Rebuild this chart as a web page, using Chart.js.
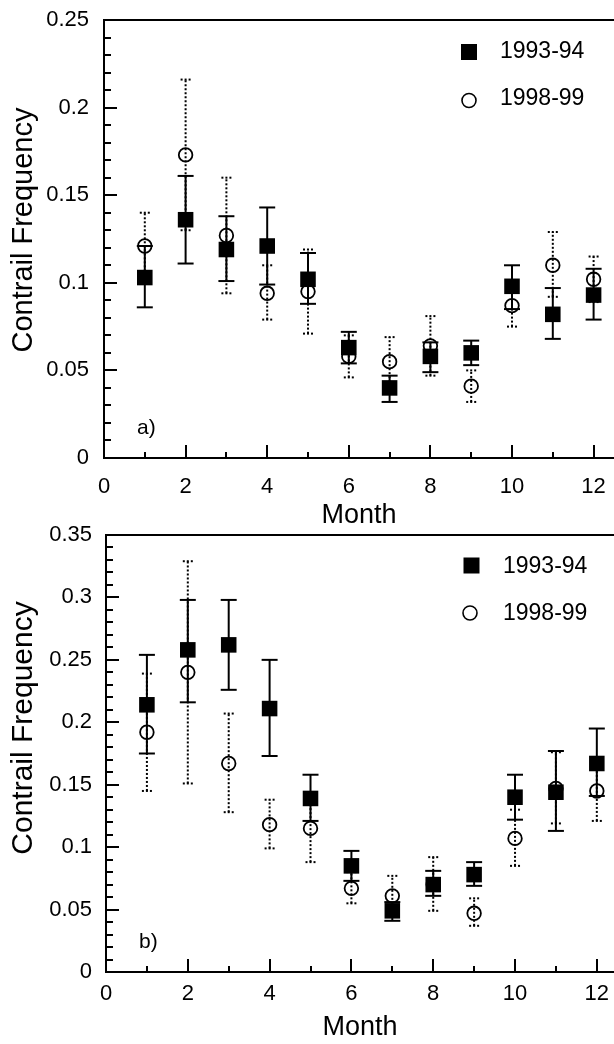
<!DOCTYPE html>
<html><head><meta charset="utf-8">
<script src="https://cdn.jsdelivr.net/npm/chart.js@4.4.1/dist/chart.umd.min.js"></script>
<style>
html,body{margin:0;padding:0;background:#fff;width:614px;height:1044px;overflow:hidden;}
canvas{position:absolute;left:0;}
#ca{top:0}
#cb{top:515px}
</style></head><body>
<canvas id="ca" width="614" height="540"></canvas>
<canvas id="cb" width="614" height="529"></canvas>
<script>
// ---------- data ----------
const months = [1,2,3,4,5,6,7,8,9,10,11,12];
const seriesNames = ['1993-94','1998-99'];
const xTitle = 'Month';
const yTitle = 'Contrail Frequency';
const panelLabels = ['a)','b)'];
const xTicks = [0,2,4,6,8,10,12];
const xTickLabels = ['0','2','4','6','8','10','12'];
const xMinorTicks = [1,3,5,7,9,11];
const yTicksA = [0,0.05,0.1,0.15,0.2,0.25];
const yTickLabelsA = ['0','0.05','0.1','0.15','0.2','0.25'];
const yTicksB = [0,0.05,0.1,0.15,0.2,0.25,0.3,0.35];
const yTickLabelsB = ['0','0.05','0.1','0.15','0.2','0.25','0.3','0.35'];
const yMinorStep = 0.01;

// panel a
const a9394   = [0.103,0.136,0.119,0.121,0.102,0.063,0.040,0.058,0.060,0.098,0.082,0.093];
const a9394Lo = [0.086,0.111,0.101,0.099,0.088,0.054,0.032,0.049,0.053,0.085,0.068,0.079];
const a9394Hi = [0.121,0.161,0.138,0.143,0.117,0.072,0.047,0.066,0.067,0.110,0.097,0.108];
const a9899   = [0.121,0.173,0.127,0.094,0.095,0.058,0.055,0.064,0.041,0.087,0.110,0.102];
const a9899Lo = [0.102,0.130,0.094,0.079,0.071,0.046,0.041,0.047,0.032,0.075,0.092,0.089];
const a9899Hi = [0.140,0.216,0.160,0.110,0.119,0.070,0.069,0.081,0.050,0.099,0.129,0.115];

// panel b
const b9394   = [0.214,0.258,0.262,0.211,0.139,0.085,0.049,0.070,0.078,0.140,0.144,0.167];
const b9394Lo = [0.175,0.216,0.226,0.173,0.121,0.073,0.041,0.061,0.069,0.122,0.113,0.141];
const b9394Hi = [0.254,0.298,0.298,0.250,0.158,0.097,0.056,0.081,0.088,0.158,0.177,0.195];
const b9899   = [0.192,0.240,0.167,0.118,0.115,0.067,0.061,0.070,0.047,0.107,0.147,0.145];
const b9899Lo = [0.145,0.151,0.128,0.099,0.088,0.055,0.045,0.049,0.037,0.085,0.119,0.121];
const b9899Hi = [0.239,0.329,0.207,0.138,0.142,0.080,0.077,0.092,0.059,0.130,0.176,0.169];

// ---------- drawing ----------
const F = "'Liberation Sans', Arial, Helvetica, sans-serif";

const panelPlugin = {
  id: 'panel',
  beforeDatasetDraw(chart, args) {
    const ds = chart.data.datasets[args.index];
    const xs = chart.scales.x, ys = chart.scales.y, ctx = chart.ctx;
    const dotted = ds.errStyle === 'dotted';
    const cap = dotted ? 5 : 8;
    ctx.save();
    ctx.strokeStyle = '#000';
    ctx.lineWidth = 2;
    ctx.lineCap = 'butt';
    if (dotted) ctx.setLineDash([2, 2]);
    ds.data.forEach((pt, i) => {
      const x = xs.getPixelForValue(pt.x);
      const yl = ys.getPixelForValue(ds.errLo[i]);
      const yh = ys.getPixelForValue(ds.errHi[i]);
      ctx.beginPath(); ctx.moveTo(x, yl); ctx.lineTo(x, yh); ctx.stroke();
      ctx.beginPath(); ctx.moveTo(x - cap, yl); ctx.lineTo(x + cap, yl); ctx.stroke();
      ctx.beginPath(); ctx.moveTo(x - cap, yh); ctx.lineTo(x + cap, yh); ctx.stroke();
    });
    ctx.restore();
  },
  afterDraw(chart, args, o) {
    const ctx = chart.ctx;
    const area = chart.chartArea;
    const left = area.left, right = area.right, top = area.top, bottom = area.bottom;
    const xs = chart.scales.x, ys = chart.scales.y;
    ctx.save();
    ctx.fillStyle = '#000';
    ctx.strokeStyle = '#000';
    // top frame line
    ctx.fillRect(left - 1, top - 1, right - left + 1, 2);
    // inward tick marks
    xTicks.forEach(v => {
      const x = Math.round(xs.getPixelForValue(v));
      ctx.fillRect(x - 1, bottom - 13, 2, 13);
    });
    xMinorTicks.forEach(v => {
      const x = Math.round(xs.getPixelForValue(v));
      ctx.fillRect(x - 1, bottom - 6, 2, 6);
    });
    const n = Math.round(ys.max / yMinorStep);
    for (let k = 1; k < n; k++) {
      const y = Math.round(ys.getPixelForValue(k * yMinorStep));
      const len = (k % 5 === 0) ? 13 : 7;
      ctx.fillRect(left, y - 1, len, 2);
    }
    // legend
    ctx.fillRect(o.legSq[0] - 8, o.legSq[1] - 8, 16, 16);
    ctx.lineWidth = 1.6;
    ctx.beginPath(); ctx.arc(o.legCi[0], o.legCi[1], 7, 0, Math.PI * 2); ctx.stroke();
    ctx.font = '23px ' + F;
    ctx.textAlign = 'left';
    ctx.textBaseline = 'alphabetic';
    ctx.fillText(seriesNames[0], o.legTx, o.legBase[0]);
    ctx.fillText(seriesNames[1], o.legTx, o.legBase[1]);
    // panel label
    ctx.font = '21px ' + F;
    ctx.fillText(o.label, left + 33, bottom - 24);
    // y title
    ctx.translate(24, o.yTitleY);
    ctx.rotate(-Math.PI / 2);
    ctx.font = o.yTitleSize + 'px ' + F;
    ctx.textAlign = 'center';
    ctx.textBaseline = 'middle';
    ctx.fillText(yTitle, 0, 0);
    ctx.restore();
  }
};

function makePanel(id, p) {
  return new Chart(document.getElementById(id), {
    type: 'scatter',
    data: {
      datasets: [
        { label: seriesNames[0],
          data: months.map((m, i) => ({x: m, y: p.v1[i]})),
          errLo: p.lo1, errHi: p.hi1, errStyle: 'solid',
          pointStyle: 'rect', pointRadius: 11, pointHoverRadius: 11,
          backgroundColor: '#000', borderColor: '#000', borderWidth: 0 },
        { label: seriesNames[1],
          data: months.map((m, i) => ({x: m, y: p.v2[i]})),
          errLo: p.lo2, errHi: p.hi2, errStyle: 'dotted',
          pointStyle: 'circle', pointRadius: 6.8, pointHoverRadius: 6.8,
          backgroundColor: 'rgba(0,0,0,0)', borderColor: '#000', borderWidth: 1.8 }
      ]
    },
    options: {
      responsive: false,
      animation: false,
      events: [],
      layout: {autoPadding: false, padding: {top: 20, left: 0, right: 0, bottom: 0}},
      plugins: {
        legend: {display: false},
        tooltip: {enabled: false},
        panel: p.deco
      },
      scales: {
        x: {
          type: 'linear', position: 'bottom', min: 0, max: p.xMax,
          afterBuildTicks: s => { s.ticks = xTicks.map(v => ({value: v})); },
          afterFit: s => { s.height = p.xAxisH; s.paddingLeft = 0; s.paddingRight = 0; s.paddingTop = 0; s.paddingBottom = 0; },
          grid: {display: false, drawTicks: false},
          border: {display: true, color: '#000', width: 2},
          ticks: {autoSkip: false, maxRotation: 0, minRotation: 0, padding: p.xTickPad,
                  color: '#000', font: {family: F, size: 22},
                  callback: (v, i) => xTickLabels[i]},
          title: {display: true, text: xTitle, color: '#000',
                  font: {family: F, size: 27, lineHeight: 1.2},
                  padding: {top: 0, bottom: p.xTitlePad}}
        },
        y: {
          type: 'linear', position: 'left', min: 0, max: p.yTicks[p.yTicks.length - 1],
          afterBuildTicks: s => { s.ticks = p.yTicks.map(v => ({value: v})); },
          afterFit: s => { s.width = p.yAxisW; s.paddingLeft = 0; s.paddingRight = 0; s.paddingTop = 0; s.paddingBottom = 0; },
          grid: {display: false, drawTicks: false},
          border: {display: true, color: '#000', width: 2},
          ticks: {autoSkip: false, padding: p.yTickPad, color: '#000',
                  font: {family: F, size: 22},
                  callback: (v, i) => p.yLabels[i]},
          title: {display: false}
        }
      }
    },
    plugins: [panelPlugin]
  });
}

makePanel('ca', {
  v1: a9394, lo1: a9394Lo, hi1: a9394Hi,
  v2: a9899, lo2: a9899Lo, hi2: a9899Hi,
  yTicks: yTicksA, yLabels: yTickLabelsA,
  xMax: 12.5, xAxisH: 82, yAxisW: 104, xTickPad: 16, yTickPad: 15, xTitlePad: 8,
  deco: {legSq: [469, 52], legCi: [469, 100.5], legTx: 500, legBase: [58, 105],
         label: panelLabels[0], yTitleY: 230, yTitleSize: 29}
});

makePanel('cb', {
  v1: b9394, lo1: b9394Lo, hi1: b9394Hi,
  v2: b9899, lo2: b9899Lo, hi2: b9899Hi,
  yTicks: yTicksB, yLabels: yTickLabelsB,
  xMax: 12.42, xAxisH: 72, yAxisW: 106, xTickPad: 8.5, yTickPad: 14, xTitlePad: 0,
  deco: {legSq: [471.5, 50.5], legCi: [470, 98], legTx: 503, legBase: [58, 105],
         label: panelLabels[1], yTitleY: 213, yTitleSize: 30}
});
</script>
</body></html>
